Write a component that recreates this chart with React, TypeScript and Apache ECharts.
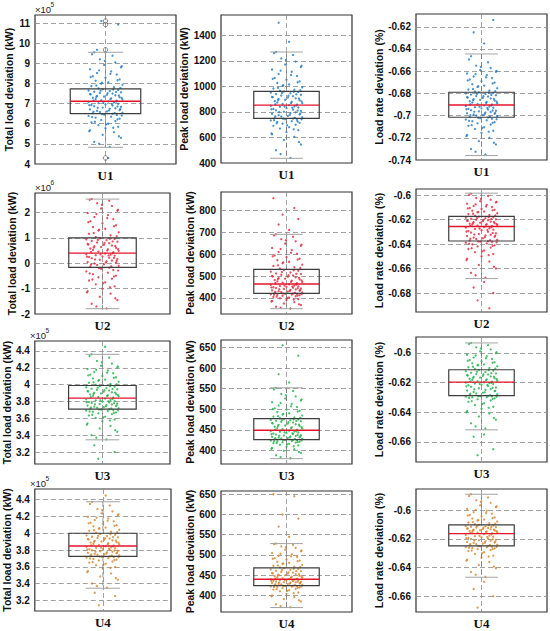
import React, { useEffect, useRef } from 'react';
import * as echarts from 'echarts';

const units = ['U1', 'U2', 'U3', 'U4'];
const metrics = ['Total load deviation (kW)', 'Peak load deviation (kW)', 'Load rate deviation (%)'];
const unitColors = ['#1f78c1', '#e3263a', '#22b24a', '#d4832e'];

// box statistics: [lower whisker, Q1, median, Q3, upper whisker]
const u1TotalBox = [4.83, 6.5, 7.12, 7.73, 9.55];
const u1PeakBox = [437, 750, 854, 962, 1270];
const u1RateBox = [-0.736, -0.7015, -0.6905, -0.679, -0.6445];
const u2TotalBox = [-1.79, -0.16, 0.4, 1.0, 2.53];
const u2PeakBox = [351, 421, 464, 530, 690];
const u2RateBox = [-0.6682, -0.6375, -0.6257, -0.6173, -0.5984];
const u3TotalBox = [3.345, 3.71, 3.84, 3.99, 4.36];
const u3PeakBox = [380, 426, 449, 477, 552];
const u3RateBox = [-0.6519, -0.6288, -0.6197, -0.6113, -0.5932];
const u4TotalBox = [3.344, 3.725, 3.848, 4.0, 4.376];
const u4PeakBox = [370, 424, 440, 468, 528];
const u4RateBox = [-0.6468, -0.6249, -0.6163, -0.6102, -0.5888];

// sample values (estimated)
const u1TotalPts = [4.85, 5.1, 5.3, 5.45, 5.58, 5.68, 5.77, 5.85, 5.93, 6.0, 6.07, 6.13, 6.19, 6.25, 6.3, 6.35, 6.39, 6.43, 6.46, 6.49,
  6.52, 6.55, 6.58, 6.61, 6.64, 6.68, 6.71, 6.74, 6.77, 6.8, 6.84, 6.87, 6.9, 6.93, 6.96, 6.99, 7.02, 7.05, 7.08, 7.11,
  7.14, 7.17, 7.2, 7.23, 7.26, 7.29, 7.32, 7.35, 7.38, 7.41, 7.44, 7.47, 7.5, 7.53, 7.56, 7.59, 7.62, 7.65, 7.68, 7.71,
  7.76, 7.81, 7.87, 7.93, 7.99, 8.06, 8.13, 8.2, 8.28, 8.36, 8.44, 8.52, 8.6, 8.7, 8.8, 8.92, 9.05, 9.2, 9.38, 9.55];
const u1TotalMore = [5.0, 5.38, 5.63, 5.8, 5.97, 6.1, 6.22, 6.33, 6.41, 6.48, 6.53, 6.6, 6.66, 6.73, 6.79, 6.86, 6.92, 6.98, 7.04, 7.1,
  7.15, 7.22, 7.28, 7.34, 7.4, 7.46, 7.52, 7.58, 7.64, 7.7, 7.78, 7.9, 8.03, 8.16, 8.32, 8.48, 8.65, 8.86, 9.12, 9.45];
const u1TotalOut = [4.3, 9.67, 10.93, 11.1];
const u1PeakPts = [440, 500, 545, 580, 605, 625, 642, 657, 670, 681, 691, 700, 708, 715, 722, 728, 734, 739, 744, 748,
  753, 758, 764, 769, 775, 780, 786, 791, 797, 802, 808, 813, 819, 824, 830, 835, 840, 845, 849, 853,
  858, 863, 869, 874, 880, 885, 891, 896, 902, 907, 913, 918, 924, 929, 935, 940, 946, 951, 956, 960,
  967, 975, 984, 994, 1004, 1015, 1027, 1040, 1053, 1067, 1082, 1098, 1115, 1133, 1152, 1172, 1195, 1220, 1247, 1270];
const u1PeakMore = [470, 565, 632, 664, 695, 711, 725, 736, 742, 747, 755, 766, 777, 788, 799, 811, 822, 833, 843, 851,
  860, 871, 883, 894, 905, 916, 927, 938, 949, 958, 970, 989, 1010, 1033, 1060, 1090, 1124, 1162, 1208, 1262];
const u1PeakOut = [1350, 1500];
const u1RatePts = [-0.735, -0.73, -0.726, -0.723, -0.72, -0.7175, -0.7155, -0.7137, -0.712, -0.7105, -0.7092, -0.708, -0.707, -0.706, -0.7051, -0.7043, -0.7036, -0.7029, -0.7023, -0.7018,
  -0.7012, -0.7006, -0.7, -0.6995, -0.699, -0.6984, -0.6979, -0.6973, -0.6968, -0.6962, -0.6957, -0.6951, -0.6946, -0.694, -0.6935, -0.693, -0.6924, -0.6918, -0.6913, -0.6908,
  -0.6901, -0.6895, -0.6889, -0.6883, -0.6877, -0.6871, -0.6865, -0.6859, -0.6853, -0.6847, -0.6841, -0.6835, -0.6829, -0.6823, -0.6817, -0.6811, -0.6805, -0.68, -0.6796, -0.6792,
  -0.6784, -0.6775, -0.6765, -0.6754, -0.6742, -0.673, -0.6717, -0.6703, -0.669, -0.6676, -0.6662, -0.6648, -0.6634, -0.662, -0.6605, -0.659, -0.6572, -0.655, -0.652, -0.6465];
const u1RateMore = [-0.7325, -0.7245, -0.7185, -0.7145, -0.7112, -0.7086, -0.7065, -0.7047, -0.7032, -0.702, -0.7009, -0.6997, -0.6986, -0.6976, -0.6965, -0.6954, -0.6943, -0.6932, -0.6921, -0.691,
  -0.6898, -0.6886, -0.6874, -0.6862, -0.685, -0.6838, -0.6826, -0.6814, -0.6803, -0.6794, -0.678, -0.676, -0.6736, -0.671, -0.6683, -0.6655, -0.6627, -0.6598, -0.6562, -0.6495];
const u1RateOut = [-0.635, -0.625, -0.614];
const u2TotalPts = [-1.78, -1.6, -1.45, -1.32, -1.2, -1.1, -1.0, -0.91, -0.83, -0.75, -0.68, -0.61, -0.55, -0.49, -0.43, -0.37, -0.32, -0.27, -0.22, -0.18,
  -0.13, -0.1, -0.07, -0.04, -0.01, 0.02, 0.05, 0.08, 0.11, 0.14, 0.17, 0.2, 0.22, 0.25, 0.27, 0.3, 0.32, 0.34, 0.36, 0.38,
  0.43, 0.46, 0.49, 0.52, 0.55, 0.58, 0.61, 0.64, 0.67, 0.7, 0.73, 0.76, 0.79, 0.82, 0.85, 0.88, 0.91, 0.94, 0.96, 0.98,
  1.04, 1.1, 1.16, 1.22, 1.29, 1.36, 1.43, 1.5, 1.58, 1.66, 1.74, 1.82, 1.9, 1.98, 2.07, 2.16, 2.26, 2.37, 2.46, 2.53];
const u2TotalMore = [-1.7, -1.38, -1.15, -0.95, -0.79, -0.64, -0.52, -0.4, -0.29, -0.2, -0.12, -0.05, 0.03, 0.09, 0.15, 0.21, 0.26, 0.31, 0.35, 0.39,
  0.44, 0.5, 0.56, 0.62, 0.68, 0.74, 0.8, 0.86, 0.92, 0.97, 1.07, 1.19, 1.32, 1.46, 1.62, 1.78, 1.94, 2.11, 2.31, 2.5];
const u2TotalOut: number[] = [];
const u2PeakPts = [352, 360, 368, 375, 381, 386, 391, 395, 399, 402, 405, 408, 410, 412, 414, 416, 417, 418, 419, 420,
  423, 425, 427, 429, 431, 433, 435, 437, 439, 441, 443, 445, 447, 449, 451, 453, 455, 457, 460, 462,
  467, 470, 473, 476, 479, 482, 485, 488, 491, 494, 497, 500, 503, 506, 509, 512, 516, 520, 524, 528,
  534, 540, 546, 552, 558, 565, 572, 579, 586, 594, 602, 610, 619, 628, 638, 648, 658, 668, 679, 690];
const u2PeakMore = [356, 371, 384, 393, 400, 406, 411, 415, 418, 420, 424, 428, 432, 436, 440, 444, 448, 452, 456, 461,
  468, 474, 480, 486, 492, 498, 504, 510, 518, 526, 537, 549, 562, 575, 590, 606, 623, 643, 663, 685];
const u2PeakOut = [710, 735, 760, 780, 810, 855];
const u2RatePts = [-0.6675, -0.6635, -0.66, -0.657, -0.6543, -0.652, -0.65, -0.6482, -0.6466, -0.6452, -0.644, -0.6429, -0.6419, -0.641, -0.6402, -0.6395, -0.6389, -0.6384, -0.638, -0.6377,
  -0.6371, -0.6365, -0.6359, -0.6353, -0.6347, -0.6341, -0.6335, -0.633, -0.6324, -0.6318, -0.6312, -0.6306, -0.63, -0.6294, -0.6288, -0.6282, -0.6276, -0.627, -0.6265, -0.626,
  -0.6253, -0.6249, -0.6245, -0.6241, -0.6237, -0.6233, -0.6229, -0.6225, -0.6221, -0.6217, -0.6213, -0.6209, -0.6205, -0.6201, -0.6197, -0.6193, -0.6189, -0.6185, -0.6181, -0.6176,
  -0.6169, -0.6162, -0.6155, -0.6148, -0.6141, -0.6134, -0.6127, -0.612, -0.6113, -0.6105, -0.6097, -0.6088, -0.6079, -0.607, -0.606, -0.605, -0.6038, -0.6024, -0.6008, -0.5988];
const u2RateMore = [-0.6655, -0.6585, -0.6531, -0.6491, -0.6459, -0.6434, -0.6414, -0.6398, -0.6386, -0.6378, -0.6368, -0.6356, -0.6344, -0.6332, -0.6321, -0.6309, -0.6297, -0.6285, -0.6273, -0.6262,
  -0.6251, -0.6243, -0.6235, -0.6227, -0.6219, -0.6211, -0.6203, -0.6195, -0.6187, -0.6179, -0.6166, -0.6152, -0.6138, -0.6124, -0.6109, -0.6093, -0.6075, -0.6055, -0.6031, -0.5998];
const u2RateOut = [-0.671, -0.6755, -0.68, -0.686, -0.6925];
const u3TotalPts = [3.35, 3.4, 3.44, 3.48, 3.51, 3.54, 3.565, 3.585, 3.605, 3.62, 3.635, 3.65, 3.66, 3.67, 3.678, 3.686, 3.693, 3.699, 3.704, 3.708,
  3.715, 3.72, 3.727, 3.733, 3.739, 3.745, 3.751, 3.757, 3.763, 3.769, 3.775, 3.781, 3.787, 3.793, 3.799, 3.805, 3.812, 3.819, 3.826, 3.834,
  3.847, 3.854, 3.861, 3.868, 3.875, 3.882, 3.889, 3.896, 3.903, 3.91, 3.917, 3.924, 3.931, 3.938, 3.945, 3.952, 3.96, 3.968, 3.976, 3.985,
  3.998, 4.01, 4.022, 4.034, 4.047, 4.06, 4.074, 4.088, 4.103, 4.118, 4.134, 4.15, 4.167, 4.185, 4.204, 4.224, 4.25, 4.28, 4.32, 4.36];
const u3TotalMore = [3.37, 3.46, 3.525, 3.575, 3.612, 3.642, 3.665, 3.682, 3.696, 3.706, 3.717, 3.73, 3.742, 3.754, 3.766, 3.778, 3.79, 3.802, 3.815, 3.83,
  3.85, 3.864, 3.878, 3.892, 3.906, 3.92, 3.934, 3.948, 3.964, 3.98, 4.004, 4.028, 4.054, 4.081, 4.11, 4.142, 4.176, 4.214, 4.265, 4.34];
const u3TotalOut = [4.45, 3.28, 3.2, 3.12];
const u3PeakPts = [381, 388, 394, 399, 403, 406, 409, 412, 414, 416, 417.5, 419, 420, 421, 422, 423, 424, 424.5, 425, 425.5,
  427, 428, 429, 430, 431, 432, 433, 434, 435, 436, 437, 438.5, 440, 441, 442, 443.5, 445, 446, 447, 448,
  450, 451.5, 453, 454.5, 456, 457.5, 459, 460.5, 462, 463.5, 465, 466.5, 468, 469.5, 471, 472, 473, 474, 475, 476,
  478, 480, 482, 484.5, 487, 490, 493, 496, 499, 502, 505.5, 509, 513, 517, 521, 526, 531, 537, 544, 552];
const u3PeakMore = [384, 396, 404, 410, 415, 418, 420.5, 422.5, 424.2, 425.2, 427.5, 429.5, 431.5, 433.5, 435.5, 437.5, 439.5, 441.5, 444, 446.5,
  450.5, 453.5, 456.5, 459.5, 462.5, 465.5, 468.5, 471.5, 473.5, 475.5, 479, 483, 488.5, 494.5, 500.5, 507, 515, 523.5, 534, 548];
const u3PeakOut = [565, 585, 630, 655];
const u3RatePts = [-0.651, -0.6475, -0.645, -0.6428, -0.6409, -0.6392, -0.6377, -0.6363, -0.6351, -0.634, -0.633, -0.6321, -0.6313, -0.6306, -0.63, -0.6298, -0.6295, -0.6293, -0.6291, -0.629,
  -0.6283, -0.6278, -0.6273, -0.6268, -0.6263, -0.6258, -0.6253, -0.6248, -0.6243, -0.6238, -0.6233, -0.6228, -0.6223, -0.6218, -0.6214, -0.621, -0.6206, -0.6203, -0.62, -0.6198,
  -0.6194, -0.619, -0.6186, -0.6182, -0.6178, -0.6174, -0.617, -0.6166, -0.6162, -0.6158, -0.6154, -0.615, -0.6146, -0.6142, -0.6138, -0.6133, -0.6128, -0.6123, -0.6118, -0.6114,
  -0.6108, -0.6102, -0.6096, -0.609, -0.6084, -0.6077, -0.607, -0.6063, -0.6056, -0.6048, -0.604, -0.6031, -0.6022, -0.6012, -0.6001, -0.5989, -0.5976, -0.5962, -0.5947, -0.5933];
const u3RateMore = [-0.6495, -0.6439, -0.64, -0.637, -0.6345, -0.6325, -0.631, -0.6302, -0.6296, -0.6292, -0.6285, -0.6275, -0.6265, -0.6255, -0.6245, -0.6235, -0.6225, -0.6216, -0.6208, -0.6201,
  -0.6192, -0.6184, -0.6176, -0.6168, -0.616, -0.6152, -0.6144, -0.6136, -0.6126, -0.6116, -0.6105, -0.6093, -0.608, -0.6066, -0.6052, -0.6036, -0.6017, -0.5995, -0.5969, -0.594];
const u3RateOut = [-0.655, -0.6565, -0.665, -0.669];
const u4TotalPts = [3.35, 3.4, 3.445, 3.485, 3.52, 3.55, 3.575, 3.597, 3.617, 3.635, 3.65, 3.663, 3.675, 3.685, 3.694, 3.702, 3.709, 3.714, 3.719, 3.723,
  3.73, 3.736, 3.742, 3.748, 3.754, 3.76, 3.766, 3.772, 3.778, 3.784, 3.79, 3.796, 3.802, 3.808, 3.814, 3.82, 3.826, 3.832, 3.838, 3.844,
  3.853, 3.86, 3.867, 3.874, 3.881, 3.888, 3.895, 3.902, 3.909, 3.916, 3.923, 3.93, 3.937, 3.944, 3.951, 3.958, 3.966, 3.974, 3.982, 3.992,
  4.006, 4.018, 4.03, 4.042, 4.055, 4.068, 4.082, 4.096, 4.111, 4.126, 4.142, 4.159, 4.177, 4.196, 4.216, 4.238, 4.262, 4.29, 4.33, 4.372];
const u4TotalMore = [3.37, 3.465, 3.535, 3.586, 3.626, 3.657, 3.68, 3.698, 3.712, 3.721, 3.733, 3.745, 3.757, 3.769, 3.781, 3.793, 3.805, 3.817, 3.829, 3.841,
  3.856, 3.87, 3.884, 3.898, 3.912, 3.926, 3.94, 3.954, 3.97, 3.987, 4.012, 4.036, 4.061, 4.089, 4.118, 4.15, 4.186, 4.226, 4.275, 4.35];
const u4TotalOut = [4.45, 3.29, 3.25, 3.14];
const u4PeakPts = [371, 378, 385, 391, 396, 400, 404, 407, 410, 412.5, 414.5, 416.5, 418, 419.5, 420.5, 421.5, 422.3, 423, 423.5, 424,
  425, 426, 427, 428, 428.8, 429.6, 430.4, 431.2, 432, 432.8, 433.6, 434.4, 435.2, 436, 436.8, 437.5, 438.2, 438.8, 439.4, 440,
  441, 442.3, 443.6, 444.9, 446.2, 447.5, 448.8, 450, 451.3, 452.6, 453.9, 455.2, 456.5, 458, 459.5, 461, 462.5, 464, 465.5, 467,
  469, 471, 473, 475.5, 478, 480.5, 483, 486, 489, 492, 495, 498, 501.5, 505, 509, 513, 517, 521, 525, 528];
const u4PeakMore = [374, 388, 398, 405.5, 411, 415.5, 419, 421, 422.7, 423.8, 425.5, 427.5, 429.2, 430.8, 432.4, 434, 435.6, 437.2, 438.5, 439.7,
  441.6, 444.2, 446.8, 449.4, 452, 454.5, 457, 460, 463, 466, 470, 474, 479, 484.5, 490.5, 496.5, 503, 511, 519, 527];
const u4PeakOut = [545, 570, 590, 600, 645, 650];
const u4RatePts = [-0.6465, -0.6432, -0.6405, -0.6382, -0.6362, -0.6345, -0.633, -0.6317, -0.6305, -0.6294, -0.6285, -0.6278, -0.6272, -0.6267, -0.6263, -0.6259, -0.6256, -0.6254, -0.6252, -0.625,
  -0.6245, -0.6241, -0.6237, -0.6233, -0.6229, -0.6225, -0.6221, -0.6217, -0.6213, -0.6209, -0.6205, -0.6201, -0.6197, -0.6193, -0.6189, -0.6185, -0.6181, -0.6177, -0.6172, -0.6167,
  -0.616, -0.6157, -0.6154, -0.6151, -0.6148, -0.6145, -0.6142, -0.6139, -0.6136, -0.6133, -0.613, -0.6127, -0.6124, -0.6121, -0.6118, -0.6115, -0.6112, -0.6109, -0.6106, -0.6103,
  -0.6097, -0.6091, -0.6085, -0.6079, -0.6072, -0.6065, -0.6058, -0.605, -0.6042, -0.6033, -0.6024, -0.6014, -0.6003, -0.5991, -0.5978, -0.5964, -0.5948, -0.593, -0.591, -0.5888];
const u4RateMore = [-0.645, -0.6393, -0.6353, -0.6323, -0.63, -0.6281, -0.627, -0.6261, -0.6255, -0.6251, -0.6243, -0.6235, -0.6227, -0.6219, -0.6211, -0.6203, -0.6195, -0.6187, -0.6179, -0.617,
  -0.6158, -0.6152, -0.6146, -0.614, -0.6134, -0.6128, -0.6122, -0.6116, -0.611, -0.6104, -0.6094, -0.6082, -0.6068, -0.6054, -0.6037, -0.6019, -0.5997, -0.5971, -0.594, -0.59];
const u4RateOut = [-0.65, -0.655, -0.66, -0.668];

// horizontal jitter of each sample around the group centre (x = 1)
const jitter = [0.03, -0.08, 0.11, -0.02, 0.06, -0.11, 0.0, 0.09, -0.05, 0.02, -0.1, 0.07, -0.03, 0.1, -0.07, 0.04, -0.12, 0.08, -0.01, 0.05,
  -0.09, 0.12, -0.04, 0.01, -0.06, 0.1, -0.11, 0.03, 0.07, -0.02, 0.11, -0.08, 0.05, -0.1, 0.0, 0.09, -0.05, 0.06, -0.12, 0.02,
  0.08, -0.03, 0.12, -0.07, 0.04, -0.09, 0.1, -0.01, -0.06, 0.07, 0.01, -0.11, 0.05, -0.04, 0.11, -0.08, 0.03, -0.12, 0.09, -0.02,
  -0.05, 0.06, -0.1, 0.12, -0.03, 0.02, -0.07, 0.1, 0.0, -0.09, 0.08, -0.06, 0.04, -0.11, 0.11, -0.01, 0.07, -0.04, 0.05, -0.08,
  0.02, -0.06, 0.09, -0.03, 0.06, -0.1];
const jitter2 = [-0.045, 0.095, -0.115, 0.055, 0.005, -0.075, 0.085, -0.095, 0.115, -0.025,
  0.065, -0.085, 0.025, 0.105, -0.055, 0.085, -0.115, 0.045, -0.015, 0.075,
  -0.085, 0.035, 0.115, -0.065, 0.095, -0.105, 0.015, 0.075, -0.035, 0.055,
  0.105, -0.065, -0.025, 0.085, -0.105, 0.035, -0.045, 0.115, -0.005, -0.095];

// y axis ranges [min, max, tick step]
const u1TotalRange = [4, 11.4, 1];
const u1PeakRange = [400, 1560, 200];
const u1RateRange = [-0.74, -0.6085, 0.02];
const u2TotalRange = [-2, 2.77, 1];
const u2PeakRange = [327, 883, 100];
const u2RateRange = [-0.6955, -0.595, 0.02];
const u3TotalRange = [3.058, 4.518, 0.2];
const u3PeakRange = [367, 668, 50];
const u3RateRange = [-0.6736, -0.5892, 0.02];
const u4TotalRange = [3.072, 4.528, 0.2];
const u4PeakRange = [359, 658, 50];
const u4RateRange = [-0.6711, -0.5851, 0.02];

const exponents = ['5', '6', '5', '5'];

const panels = [
  { box: u1TotalBox, pts: u1TotalPts, more: u1TotalMore, out: u1TotalOut, range: u1TotalRange, circles: true },
  { box: u1PeakBox, pts: u1PeakPts, more: u1PeakMore, out: u1PeakOut, range: u1PeakRange, circles: false },
  { box: u1RateBox, pts: u1RatePts, more: u1RateMore, out: u1RateOut, range: u1RateRange, circles: false },
  { box: u2TotalBox, pts: u2TotalPts, more: u2TotalMore, out: u2TotalOut, range: u2TotalRange, circles: false },
  { box: u2PeakBox, pts: u2PeakPts, more: u2PeakMore, out: u2PeakOut, range: u2PeakRange, circles: false },
  { box: u2RateBox, pts: u2RatePts, more: u2RateMore, out: u2RateOut, range: u2RateRange, circles: false },
  { box: u3TotalBox, pts: u3TotalPts, more: u3TotalMore, out: u3TotalOut, range: u3TotalRange, circles: false },
  { box: u3PeakBox, pts: u3PeakPts, more: u3PeakMore, out: u3PeakOut, range: u3PeakRange, circles: false },
  { box: u3RateBox, pts: u3RatePts, more: u3RateMore, out: u3RateOut, range: u3RateRange, circles: false },
  { box: u4TotalBox, pts: u4TotalPts, more: u4TotalMore, out: u4TotalOut, range: u4TotalRange, circles: false },
  { box: u4PeakBox, pts: u4PeakPts, more: u4PeakMore, out: u4PeakOut, range: u4PeakRange, circles: false },
  { box: u4RateBox, pts: u4RatePts, more: u4RateMore, out: u4RateOut, range: u4RateRange, circles: false },
];

// layout (pixels): left, top, right, bottom of each axes box
const layout = [
  [35, 15, 176, 164], [221, 15, 352, 163], [416, 14, 547, 160],
  [35, 193, 170, 314], [221, 192, 352, 314], [416, 189, 547, 312],
  [30, 341, 170, 464], [221, 340, 352, 464], [416, 337, 547, 462],
  [30, 489, 171, 611], [221, 491, 352, 612], [416, 489, 547, 613],
];
const nameGaps = [14, 12, 30, 13, 18, 30, 14.5, 18, 28.5, 14.5, 18, 31.5];

const SANS = '"Liberation Sans", Arial, sans-serif';
const SERIF = '"Liberation Serif", "Times New Roman", serif';

const fmt = (step: number) => (v: number) => {
  const k = v / step;
  if (Math.abs(k - Math.round(k)) > 1e-6) return '';
  return String(parseFloat((Math.round(k) * step).toFixed(6)));
};

const boxRender = (params: any, api: any) => {
  const lo = api.value(1), q1 = api.value(2), md = api.value(3), q3 = api.value(4), hi = api.value(5);
  const c = (x: number, y: number) => api.coord([x, y]);
  const line = (a: number[], b: number[], style: any) => ({
    type: 'line', shape: { x1: a[0], y1: a[1], x2: b[0], y2: b[1] }, style,
  });
  const tl = c(0.75, q3);
  const br = c(1.25, q1);
  const dash = { stroke: '#7a7a7a', lineWidth: 0.8, lineDash: [5, 3] };
  const cap = { stroke: '#a3a3a3', lineWidth: 1 };
  return {
    type: 'group',
    children: [
      line(c(1, hi), c(1, q3), dash),
      line(c(1, q1), c(1, lo), dash),
      line(c(0.875, hi), c(1.125, hi), cap),
      line(c(0.875, lo), c(1.125, lo), cap),
      { type: 'rect', shape: { x: tl[0], y: tl[1], width: br[0] - tl[0], height: br[1] - tl[1] }, style: { fill: 'none', stroke: '#3d3d3d', lineWidth: 1.2 } },
      line(c(0.75, md), c(1.25, md), { stroke: '#e4132b', lineWidth: 1.4 }),
    ],
  };
};

export default function App() {
  const ref = useRef<HTMLDivElement>(null);
  useEffect(() => {
    if (!ref.current) return;
    const chart = echarts.init(ref.current, undefined, { renderer: 'svg' });
    const dashLine = { color: '#8a8a8a', width: 0.8, type: [5, 3] as any };

    const grid = layout.map(([l, t, r, b]) => ({
      left: l, top: t, width: r - l, height: b - t, show: true,
      borderColor: '#333', borderWidth: 1.2, backgroundColor: 'transparent',
    }));

    const xAxis = panels.map((p, i) => ({
      type: 'value', gridIndex: i, min: 0.5, max: 1.5, minInterval: 0.5, maxInterval: 0.5,
      axisLabel: { show: false }, axisTick: { show: false }, axisLine: { show: false },
      splitLine: { show: true, showMinLine: false, showMaxLine: false, lineStyle: dashLine },
      name: units[Math.floor(i / 3)], nameLocation: 'middle', nameGap: 5,
      nameTextStyle: { fontFamily: SERIF, fontWeight: 'bold', fontSize: 13, color: '#111', verticalAlign: 'top' },
    }));

    const yAxis = panels.map((p, i) => ({
      type: 'value', gridIndex: i, min: p.range[0], max: p.range[1],
      minInterval: p.range[2], maxInterval: p.range[2], splitNumber: 8,
      axisLine: { show: false }, axisTick: { show: false },
      axisLabel: { fontFamily: SANS, fontWeight: 'bold', fontSize: 10, color: '#111', margin: 5, formatter: fmt(p.range[2]) },
      splitLine: { show: true, showMinLine: false, showMaxLine: false, lineStyle: dashLine },
      name: metrics[i % 3], nameLocation: 'middle', nameGap: nameGaps[i],
      nameTextStyle: { fontFamily: SANS, fontWeight: 'bold', fontSize: 10.5, color: '#111' },
    }));

    const series: any[] = [];
    panels.forEach((p, i) => {
      const color = unitColors[Math.floor(i / 3)];
      const all = p.pts.concat(p.out);
      const data = all.map((y, k) => [1 + jitter[k % jitter.length], y])
        .concat(p.more.map((y, k) => [1 + jitter2[k % jitter2.length], y]));
      series.push({
        type: 'scatter', xAxisIndex: i, yAxisIndex: i, silent: true, z: 2,
        symbolSize: 2.3, itemStyle: { color },
        data,
      });
      series.push({
        type: 'custom', xAxisIndex: i, yAxisIndex: i, silent: true, z: 3,
        renderItem: boxRender, encode: { x: 0, y: [1, 2, 3, 4, 5] },
        data: [[1, ...p.box]],
      });
      if (p.circles) {
        series.push({
          type: 'scatter', xAxisIndex: i, yAxisIndex: i, silent: true, z: 4,
          symbol: 'circle', symbolSize: 4.5,
          itemStyle: { color: 'rgba(0,0,0,0)', borderColor: '#555', borderWidth: 0.9 },
          data: p.out.map((y) => [1, y]),
        });
      }
    });

    const graphic: any[] = [];
    [0, 3, 6, 9].forEach((pi, r) => {
      const [l, t] = layout[pi];
      graphic.push({ type: 'text', left: l, top: t - 11, style: { text: '×10', font: `9.5px ${SANS}`, fill: '#222' } });
      graphic.push({ type: 'text', left: l + 15.5, top: t - 14, style: { text: exponents[r], font: `6.5px ${SANS}`, fill: '#222' } });
    });

    chart.setOption({
      animation: false,
      backgroundColor: '#ffffff',
      grid, xAxis, yAxis, series, graphic,
    });
    return () => chart.dispose();
  }, []);
  return <div ref={ref} style={{ position: 'absolute', left: 0, top: 0, width: 550, height: 631 }} />;
}
